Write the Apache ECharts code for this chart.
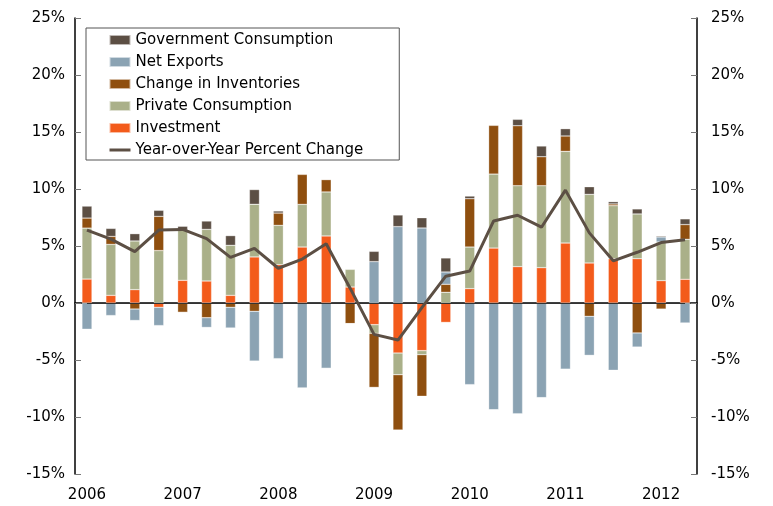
<!DOCTYPE html>
<html>
<head>
<meta charset="utf-8">
<script src="https://cdn.jsdelivr.net/npm/echarts@6/dist/echarts.min.js"></script>
<style>
  html, body { margin: 0; padding: 0; background: #fff; }
  #chart { width: 773px; height: 506px; }
</style>
</head>
<body>
<div id="chart"></div>
<script>
// quarters 2006 Q1 - 2012 Q2
var categories = [
  '2006 Q1', '2006 Q2', '2006 Q3', '2006 Q4',
  '2007 Q1', '2007 Q2', '2007 Q3', '2007 Q4',
  '2008 Q1', '2008 Q2', '2008 Q3', '2008 Q4',
  '2009 Q1', '2009 Q2', '2009 Q3', '2009 Q4',
  '2010 Q1', '2010 Q2', '2010 Q3', '2010 Q4',
  '2011 Q1', '2011 Q2', '2011 Q3', '2011 Q4',
  '2012 Q1', '2012 Q2'
];
// contributions, percentage points
var investment = [2.1, 0.67, 1.17, -0.38, 1.99, 1.93, 0.67, 4.04, 3.36, 4.91, 5.88, 1.4, -1.9, -4.39, -4.18, -1.7, 1.26, 4.82, 3.19, 3.1, 5.26, 3.51, 3.89, 3.89, 1.96, 2.08];
var privateCons = [4.47, 4.47, 4.27, 4.6, 4.39, 4.53, 4.39, 4.62, 3.45, 3.74, 3.86, 1.55, -0.76, -1.9, -0.35, 0.94, 3.65, 6.49, 7.1, 7.19, 8.04, 6.02, 4.65, 3.92, 3.39, 3.51];
var inventories = [0.88, 0.7, -0.53, 3.0, -0.82, -1.29, -0.38, -0.73, 1.08, 2.63, 1.08, -1.81, -4.74, -4.85, -3.65, 0.7, 4.24, 4.27, 5.26, 2.54, 1.35, -1.17, 0.15, -2.63, -0.53, 1.29];
var netExports = [-2.3, -1.1, -1.0, -1.6, 0, -0.85, -1.81, -4.36, -4.88, -7.46, -5.73, 0, 3.63, 6.7, 6.58, 1.08, -7.16, -9.36, -9.71, -8.3, -5.8, -3.42, -5.9, -1.23, 0.44, -1.75];
var govCons = [1.05, 0.7, 0.64, 0.53, 0.35, 0.73, 0.85, 1.29, 0.18, 0, 0, 0, 0.9, 1.02, 0.9, 1.23, 0.23, 0, 0.56, 0.94, 0.64, 0.67, 0.2, 0.44, 0.09, 0.5];
var yoy = [6.4, 5.6, 4.5, 6.4, 6.45, 5.65, 4.0, 4.8, 3.05, 3.85, 5.2, 1.3, -2.75, -3.25, -0.4, 2.35, 2.8, 7.2, 7.7, 6.65, 9.9, 6.15, 3.7, 4.45, 5.3, 5.55];

var font = 'DejaVu Sans';
var myChart = echarts.init(document.getElementById('chart'));

function yearOnly(index) {
  return index % 4 === 0;
}

function barSeries(name, color, data) {
  return {
    name: name,
    type: 'bar',
    stack: 'gdp',
    barWidth: 10,
    data: data,
    itemStyle: { color: color, borderColor: 'rgba(255,255,255,0.6)', borderWidth: 0.5 }
  };
}

var yAxisBase = {
  type: 'value',
  min: -15,
  max: 25,
  interval: 5,
  splitLine: { show: false },
  axisLine: { show: true, lineStyle: { color: '#000', width: 1.5 } },
  axisTick: { show: true, inside: true, length: 6, lineStyle: { color: '#777' } },
  axisLabel: { formatter: '{value}%', color: '#000', fontFamily: font, fontSize: 15 }
};

var option = {
  animation: false,
  backgroundColor: '#fff',
  grid: { left: 75, right: 76, top: 18, bottom: 32 },
  legend: {
    orient: 'vertical',
    left: 86,
    top: 28,
    padding: [4, 36, 2, 22],
    itemGap: 6,
    itemWidth: 21,
    itemHeight: 10,
    borderColor: '#555',
    borderWidth: 1,
    backgroundColor: '#fff',
    textStyle: { color: '#000', fontFamily: font, fontSize: 15, lineHeight: 16 },
    data: [
      { name: 'Government Consumption', icon: 'rect' },
      { name: 'Net Exports', icon: 'rect' },
      { name: 'Change in Inventories', icon: 'rect' },
      { name: 'Private Consumption', icon: 'rect' },
      { name: 'Investment', icon: 'rect' },
      // plain line, no marker
      { name: 'Year-over-Year Percent Change', itemStyle: { opacity: 0 }, lineStyle: { width: 3 } }
    ]
  },
  xAxis: {
    type: 'category',
    data: categories,
    axisLine: { lineStyle: { color: '#000', width: 1.5 } },
    axisTick: { interval: yearOnly, length: 6, lineStyle: { color: '#888' } },
    axisLabel: {
      interval: yearOnly,
      margin: 14,
      color: '#000',
      fontFamily: font,
      fontSize: 15,
      formatter: function (v) { return v.slice(0, 4); }
    }
  },
  yAxis: [
    echarts.util.merge({ position: 'left', axisLabel: { margin: 10 } }, yAxisBase, true),
    echarts.util.merge({ position: 'right', axisLabel: { margin: 14 } }, yAxisBase, true)
  ],
  series: [
    barSeries('Investment', '#F35B1B', investment),
    barSeries('Private Consumption', '#AAB089', privateCons),
    barSeries('Change in Inventories', '#8F4F0F', inventories),
    barSeries('Net Exports', '#8BA3B3', netExports),
    barSeries('Government Consumption', '#5C4F44', govCons),
    {
      name: 'Year-over-Year Percent Change',
      type: 'line',
      data: yoy,
      symbol: 'none',
      z: 5,
      lineStyle: { color: '#5C4F44', width: 3 },
      itemStyle: { color: '#5C4F44' },
      // zero line from first to last quarter
      markLine: {
        silent: true,
        symbol: 'none',
        label: { show: false },
        lineStyle: { color: '#333', width: 1, type: 'solid' },
        data: [[{ coord: [0, 0] }, { coord: [categories.length - 1, 0] }]]
      }
    }
  ]
};

myChart.setOption(option);
</script>
</body>
</html>
